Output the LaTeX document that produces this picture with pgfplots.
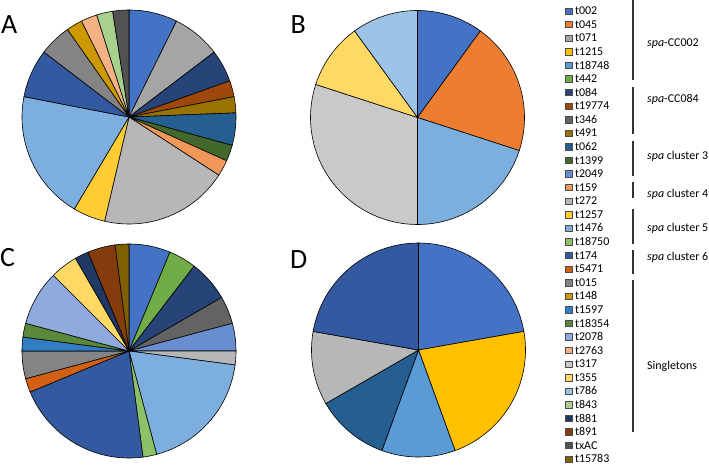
\documentclass[border=0pt]{standalone}
\usepackage{pgfplots}
\pgfplotsset{compat=1.18}
\usepackage{fontspec}
\setmainfont{Carlito}

% legend / spa-type colours (Excel palette)
\definecolor{ct002}{HTML}{4472C4}
\definecolor{ct045}{HTML}{ED7D31}
\definecolor{ct071}{HTML}{A5A5A5}
\definecolor{ct1215}{HTML}{FFC000}
\definecolor{ct18748}{HTML}{5B9BD5}
\definecolor{ct442}{HTML}{70AD47}
\definecolor{ct084}{HTML}{264478}
\definecolor{ct19774}{HTML}{9E480E}
\definecolor{ct346}{HTML}{636363}
\definecolor{ct491}{HTML}{997300}
\definecolor{ct062}{HTML}{255E91}
\definecolor{ct1399}{HTML}{43682B}
\definecolor{ct2049}{HTML}{698ED0}
\definecolor{ct159}{HTML}{F1975A}
\definecolor{ct272}{HTML}{B7B7B7}
\definecolor{ct1257}{HTML}{FFCD33}
\definecolor{ct1476}{HTML}{7CAFDD}
\definecolor{ct18750}{HTML}{8CC168}
\definecolor{ct174}{HTML}{335AA1}
\definecolor{ct5471}{HTML}{D26012}
\definecolor{ct015}{HTML}{848484}
\definecolor{ct148}{HTML}{CC9A00}
\definecolor{ct1597}{HTML}{327DC2}
\definecolor{ct18354}{HTML}{5A8A39}
\definecolor{ct2078}{HTML}{8FAADC}
\definecolor{ct2763}{HTML}{F4B183}
\definecolor{ct317}{HTML}{C9C9C9}
\definecolor{ct355}{HTML}{FFD966}
\definecolor{ct786}{HTML}{9DC3E6}
\definecolor{ct843}{HTML}{A9D18E}
\definecolor{ct881}{HTML}{1F3864}
\definecolor{ct891}{HTML}{843C0C}
\definecolor{ctxAC}{HTML}{525252}
\definecolor{ct15783}{HTML}{7F6000}

% pie data: count/colour, clockwise from 12 o'clock
\def\pieA{3/ct002, 3/ct071, 2/ct084, 1/ct19774, 1/ct491, 2/ct062, 1/ct1399, 1/ct159, 8/ct272, 2/ct1257, 8/ct1476, 3/ct174, 2/ct015, 1/ct148, 1/ct2763, 1/ct843, 1/ctxAC}
\def\pieB{1/ct002, 2/ct045, 2/ct1476, 3/ct317, 1/ct355, 1/ct786}
\def\pieC{3/ct002, 2/ct442, 3/ct084, 2/ct346, 2/ct2049, 1/ct272, 9/ct1476, 1/ct18750, 10/ct174, 1/ct5471, 2/ct015, 1/ct1597, 1/ct18354, 4/ct2078, 2/ct355, 1/ct881, 2/ct891, 1/ct15783}
\def\pieD{2/ct002, 2/ct1215, 1/ct18748, 1/ct062, 1/ct272, 2/ct174}

\newcommand\piechart[1]{%
  \gdef\pietotal{0}%
  \foreach \v/\c in #1 {\pgfmathsetmacro\tmp{\pietotal+\v}\global\let\pietotal\tmp}%
  \pgfmathsetmacro\pieunit{360/\pietotal}\global\let\pieunit\pieunit
  \gdef\piecum{0}%
  \foreach \v/\c in #1 {%
    \pgfmathsetmacro\a{90-\piecum*\pieunit}%
    \pgfmathsetmacro\b{90-(\piecum+\v)*\pieunit}%
    \edef\doplot{\noexpand\addplot[fill=\c, draw=black, line width=0.6bp, domain=\b:\a, samples=40] ({cos(x)},{sin(x)}) -- (axis cs:0,0) -- cycle;}%
    \doplot
    \pgfmathsetmacro\tmp{\piecum+\v}\global\let\piecum\tmp
  }%
}

\pgfplotsset{pieaxis/.style={hide axis, scale only axis, width=214bp, height=214bp,
  xmin=-1, xmax=1, ymin=-1, ymax=1, enlargelimits=false, clip=false, anchor=center, no markers}}

\begin{document}
\begin{tikzpicture}
\useasboundingbox (0,0) rectangle (709bp,-465bp);

\begin{axis}[pieaxis, at={(129bp,-117bp)}]
\piechart{\pieA}
\end{axis}
\begin{axis}[pieaxis, at={(417.5bp,-117.5bp)}]
\piechart{\pieB}
\end{axis}
\begin{axis}[pieaxis, at={(129bp,-351bp)}]
\piechart{\pieC}
\end{axis}
\begin{axis}[pieaxis, at={(418.5bp,-350bp)}]
\piechart{\pieD}
\end{axis}

\begin{axis}[at={(565bp,-3.9bp)}, anchor=north west, hide axis, scale only axis,
  width=5bp, height=5bp, xmin=0, xmax=1, ymin=0, ymax=1,
  legend cell align=left,
  legend image code/.code={\draw[#1, draw=black!70, line width=0.4bp] (0bp,-3.2bp) rectangle (6.4bp,3.2bp);},
  legend style={at={(0,1)}, anchor=north west, draw=none, fill=none, inner sep=0pt,
    row sep=0pt, column sep=3bp, font=\fontsize{12}{12}\selectfont,
    nodes={inner sep=0pt, text height=10.6bp, text depth=2.98bp}}]
\addlegendimage{fill=ct002}\addlegendentry{t002}
\addlegendimage{fill=ct045}\addlegendentry{t045}
\addlegendimage{fill=ct071}\addlegendentry{t071}
\addlegendimage{fill=ct1215}\addlegendentry{t1215}
\addlegendimage{fill=ct18748}\addlegendentry{t18748}
\addlegendimage{fill=ct442}\addlegendentry{t442}
\addlegendimage{fill=ct084}\addlegendentry{t084}
\addlegendimage{fill=ct19774}\addlegendentry{t19774}
\addlegendimage{fill=ct346}\addlegendentry{t346}
\addlegendimage{fill=ct491}\addlegendentry{t491}
\addlegendimage{fill=ct062}\addlegendentry{t062}
\addlegendimage{fill=ct1399}\addlegendentry{t1399}
\addlegendimage{fill=ct2049}\addlegendentry{t2049}
\addlegendimage{fill=ct159}\addlegendentry{t159}
\addlegendimage{fill=ct272}\addlegendentry{t272}
\addlegendimage{fill=ct1257}\addlegendentry{t1257}
\addlegendimage{fill=ct1476}\addlegendentry{t1476}
\addlegendimage{fill=ct18750}\addlegendentry{t18750}
\addlegendimage{fill=ct174}\addlegendentry{t174}
\addlegendimage{fill=ct5471}\addlegendentry{t5471}
\addlegendimage{fill=ct015}\addlegendentry{t015}
\addlegendimage{fill=ct148}\addlegendentry{t148}
\addlegendimage{fill=ct1597}\addlegendentry{t1597}
\addlegendimage{fill=ct18354}\addlegendentry{t18354}
\addlegendimage{fill=ct2078}\addlegendentry{t2078}
\addlegendimage{fill=ct2763}\addlegendentry{t2763}
\addlegendimage{fill=ct317}\addlegendentry{t317}
\addlegendimage{fill=ct355}\addlegendentry{t355}
\addlegendimage{fill=ct786}\addlegendentry{t786}
\addlegendimage{fill=ct843}\addlegendentry{t843}
\addlegendimage{fill=ct881}\addlegendentry{t881}
\addlegendimage{fill=ct891}\addlegendentry{t891}
\addlegendimage{fill=ctxAC}\addlegendentry{txAC}
\addlegendimage{fill=ct15783}\addlegendentry{t15783}
\end{axis}

% panel letters
\foreach \l/\x/\y in {A/1/33.3, B/290.5/33.3, C/0/266.3, D/290/268}
  \node[anchor=base west, inner sep=0pt, font=\fontsize{28}{30}\selectfont] at (\x bp,-\y bp) {\l};

% group brackets
\foreach \ya/\yb in {0/80, 87/134, 141/176, 182/198, 209/244, 250/274, 280/432}
  \draw[line width=1.8bp, color=black!80] (632.7bp,-\ya bp) -- (632.7bp,-\yb bp);
\begin{scope}[every node/.style={anchor=west, inner sep=0pt, font=\fontsize{12}{14}\selectfont}]
\node at (647bp,-43.3bp) {\textit{spa}-CC002};
\node at (647bp,-99bp) {\textit{spa}-CC084};
\node at (647bp,-156.7bp) {\textit{spa} cluster 3};
\node at (647bp,-194.3bp) {\textit{spa} cluster 4};
\node at (647bp,-228.3bp) {\textit{spa} cluster 5};
\node at (647bp,-257.7bp) {\textit{spa} cluster 6};
\node at (647bp,-366bp) {Singletons};
\end{scope}
\end{tikzpicture}
\end{document}
